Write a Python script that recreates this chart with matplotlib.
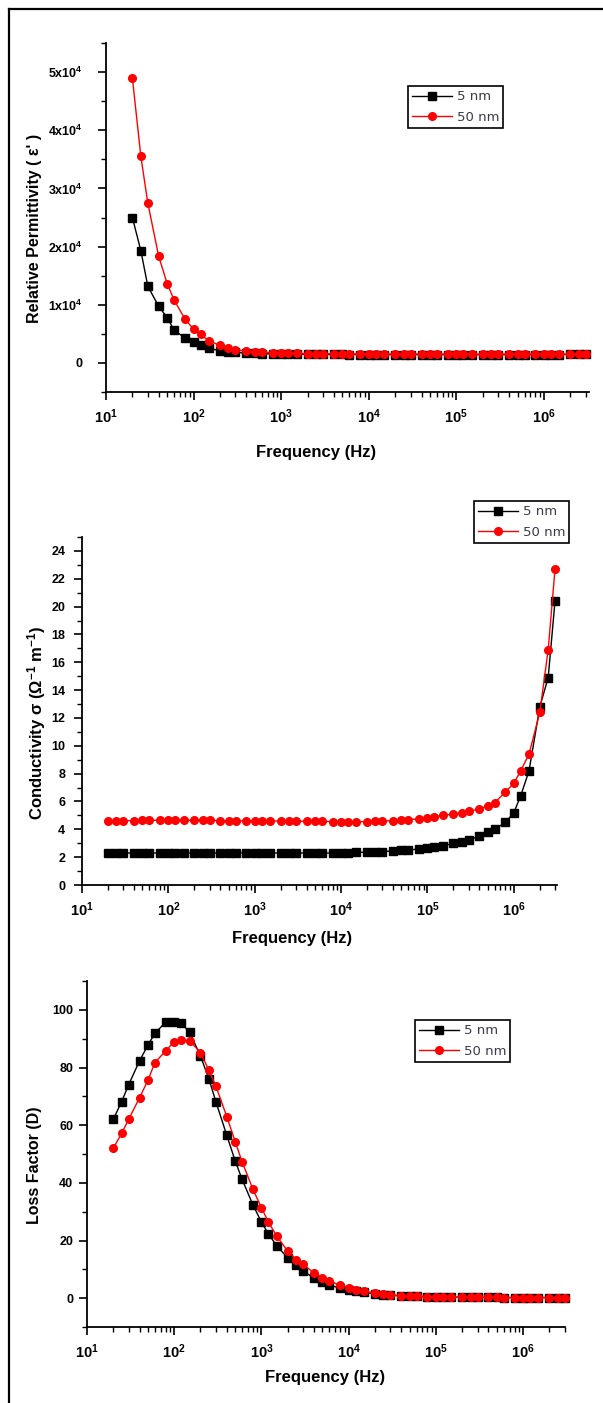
import math
import matplotlib
matplotlib.use('Agg')
import matplotlib.pyplot as plt
from matplotlib.lines import Line2D
from matplotlib.ticker import LogLocator, FixedLocator, MultipleLocator, NullFormatter, FuncFormatter

plt.rcParams['font.family'] = ['Liberation Sans', 'DejaVu Sans']
plt.rcParams['mathtext.fontset'] = 'custom'
plt.rcParams['mathtext.rm'] = 'Liberation Sans'
plt.rcParams['mathtext.bf'] = 'Liberation Sans:bold'
plt.rcParams['mathtext.default'] = 'bf'

# frequency sweep (Hz)
freq = [20, 25, 30, 40, 50, 60, 80,
        100, 120, 150, 200, 250, 300, 400, 500, 600, 800,
        1e3, 1.2e3, 1.5e3, 2e3, 2.5e3, 3e3, 4e3, 5e3, 6e3, 8e3,
        1e4, 1.2e4, 1.5e4, 2e4, 2.5e4, 3e4, 4e4, 5e4, 6e4, 8e4,
        1e5, 1.2e5, 1.5e5, 2e5, 2.5e5, 3e5, 4e5, 5e5, 6e5, 8e5,
        1e6, 1.2e6, 1.5e6, 2e6, 2.5e6, 3e6]

# relative permittivity
perm_5nm = [25000, 19300, 13200, 9700, 7800, 5600, 4300,
            3600, 3100, 2500, 2100, 1900, 1800, 1700, 1650, 1600, 1550,
            1520, 1500, 1490, 1480, 1470, 1460, 1450, 1450, 1440, 1440,
            1430, 1430, 1430, 1430, 1430, 1430, 1430, 1430, 1430, 1430,
            1420, 1420, 1420, 1420, 1420, 1420, 1420, 1420, 1420, 1420,
            1420, 1430, 1440, 1450, 1470, 1500]
perm_50nm = [49000, 35500, 27500, 18300, 13600, 10800, 7500,
             5800, 4900, 3800, 3000, 2600, 2300, 2000, 1900, 1850, 1750,
             1700, 1650, 1620, 1600, 1580, 1570, 1560, 1550, 1550, 1540,
             1540, 1530, 1530, 1530, 1530, 1530, 1530, 1530, 1530, 1530,
             1520, 1520, 1520, 1520, 1520, 1520, 1520, 1520, 1520, 1520,
             1520, 1520, 1520, 1530, 1540, 1550]

# conductivity
cond_5nm = [2.3, 2.3, 2.3, 2.3, 2.3, 2.3, 2.3,
            2.3, 2.3, 2.3, 2.3, 2.3, 2.3, 2.3, 2.3, 2.3, 2.3,
            2.3, 2.3, 2.3, 2.3, 2.3, 2.3, 2.3, 2.3, 2.3, 2.3,
            2.3, 2.3, 2.35, 2.35, 2.4, 2.4, 2.45, 2.5, 2.5, 2.6,
            2.65, 2.7, 2.8, 3.0, 3.1, 3.25, 3.5, 3.8, 4.0, 4.5,
            5.2, 6.4, 8.2, 12.8, 14.9, 20.4]
cond_50nm = [4.6, 4.6, 4.62, 4.62, 4.65, 4.65, 4.65,
             4.65, 4.65, 4.65, 4.65, 4.65, 4.65, 4.62, 4.62, 4.62, 4.6,
             4.6, 4.6, 4.6, 4.6, 4.6, 4.58, 4.58, 4.57, 4.57, 4.56,
             4.55, 4.55, 4.55, 4.55, 4.57, 4.6, 4.62, 4.65, 4.7, 4.75,
             4.8, 4.9, 5.0, 5.1, 5.2, 5.3, 5.45, 5.7, 5.9, 6.7,
             7.3, 8.2, 9.4, 12.4, 16.9, 22.7]

# loss factor
loss_5nm = [62.0, 68.2, 74.0, 82.3, 87.8, 91.8, 95.8,
            95.8, 95.5, 92.2, 84.0, 76.0, 68.2, 56.5, 47.6, 41.2, 32.3,
            26.4, 22.3, 18.1, 14.0, 11.5, 9.4, 7.0, 5.5, 4.5, 3.5,
            2.9, 2.4, 2.0, 1.5, 1.2, 1.0, 0.8, 0.7, 0.6, 0.5,
            0.45, 0.4, 0.35, 0.3, 0.3, 0.3, 0.25, 0.25, 0.2, 0.2,
            0.2, 0.2, 0.2, 0.2, 0.2, 0.2]
loss_50nm = [52.0, 57.2, 62.0, 69.5, 75.6, 81.7, 85.8,
             89.0, 89.6, 89.2, 85.2, 79.0, 73.6, 63.0, 54.3, 47.3, 37.7,
             31.4, 26.4, 21.5, 16.3, 13.4, 11.7, 8.8, 7.0, 5.9, 4.5,
             3.6, 3.0, 2.4, 1.8, 1.4, 1.2, 0.9, 0.7, 0.6, 0.5,
             0.45, 0.4, 0.35, 0.3, 0.3, 0.3, 0.25, 0.25, 0.2, 0.2,
             0.2, 0.2, 0.2, 0.2, 0.2, 0.2]

labels = ['5 nm', '50 nm']
W, H = 603, 1403
fig = plt.figure(figsize=(W / 100, H / 100), dpi=100)


def px_axes(l, t, r, b):
    return fig.add_axes([l / W, 1 - b / H, (r - l) / W, (b - t) / H])


def style(ax, xmax, ypad):
    ax.set_xscale('log')
    ax.set_xlim(10, xmax)
    for s in ['top', 'right']:
        ax.spines[s].set_visible(False)
    for s in ['left', 'bottom']:
        ax.spines[s].set_linewidth(1.3)
    ax.xaxis.set_major_locator(LogLocator(base=10, numticks=10))
    ax.xaxis.set_minor_locator(LogLocator(base=10, subs=range(2, 10), numticks=20))
    ax.xaxis.set_minor_formatter(NullFormatter())
    ax.xaxis.set_major_formatter(FuncFormatter(lambda v, p: r'$10^{%d}$' % round(math.log10(v))))
    ax.tick_params(which='major', direction='out', length=6, width=1.2)
    ax.tick_params(which='minor', direction='out', length=3.5, width=1.0)
    ax.tick_params(axis='x', which='major', labelsize=10.5, pad=5)
    ax.tick_params(axis='y', which='major', labelsize=9, pad=ypad)


def draw(ax, y1, y2):
    ax.plot(freq, y1, color='black', marker='s', ms=5.5, lw=1.0, label=labels[0], clip_on=False)
    ax.plot(freq, y2, color='red', marker='o', ms=5.5, lw=1.0, label=labels[1], clip_on=False)


def legend(ax, x, y):
    lg = ax.legend(loc='upper left', bbox_to_anchor=(x / W, 1 - y / H), bbox_transform=fig.transFigure,
                   borderaxespad=0, fancybox=False, edgecolor='black', framealpha=1,
                   prop={'family': 'DejaVu Sans', 'size': 9.5},
                   handlelength=3.0, handletextpad=0.35, borderpad=0.33, labelspacing=0.55)
    lg.get_frame().set_linewidth(1.2)
    for t in lg.get_texts():
        t.set_color('#3a3a4a')


# panel 1: relative permittivity
ax1 = px_axes(106, 43, 589, 392)
draw(ax1, perm_5nm, perm_50nm)
style(ax1, 10 ** 6.514, 11)
ax1.set_ylim(-5000, 55000)
ax1.yaxis.set_major_locator(FixedLocator([0, 10000, 20000, 30000, 40000, 50000]))
ax1.yaxis.set_minor_locator(MultipleLocator(5000))
ax1.yaxis.set_major_formatter(FuncFormatter(lambda v, p: '0' if v == 0 else r'$%dx10^{4}$' % round(v / 1e4)))
ax1.set_ylabel("Relative Permittivity ( ε' )", fontsize=11.5, fontweight='bold')
ax1.yaxis.set_label_coords(-0.1325, 0.47)
ax1.set_xlabel('Frequency (Hz)', fontsize=12, fontweight='bold')
ax1.xaxis.set_label_coords(0.435, -0.152)
legend(ax1, 408, 86)

# panel 2: conductivity
ax2 = px_axes(82, 537, 557, 885)
draw(ax2, cond_5nm, cond_50nm)
style(ax2, 10 ** 6.50, 6)
ax2.set_ylim(0, 25)
ax2.yaxis.set_major_locator(MultipleLocator(2))
ax2.yaxis.set_minor_locator(MultipleLocator(1))
ax2.set_ylabel(r'Conductivity σ (Ω$^{-1}$ m$^{-1}$)', fontsize=12, fontweight='bold')
ax2.yaxis.set_label_coords(-0.0716, 0.466)
ax2.set_xlabel('Frequency (Hz)', fontsize=12, fontweight='bold')
ax2.xaxis.set_label_coords(0.443, -0.132)
legend(ax2, 474, 501)

# panel 3: loss factor
ax3 = px_axes(87, 981, 565, 1327)
draw(ax3, loss_5nm, loss_50nm)
style(ax3, 10 ** 6.48, 4)
ax3.set_ylim(-10, 110)
ax3.yaxis.set_major_locator(FixedLocator([0, 20, 40, 60, 80, 100]))
ax3.yaxis.set_minor_locator(MultipleLocator(10))
ax3.set_ylabel('Loss Factor (D)', fontsize=11.5, fontweight='bold')
ax3.yaxis.set_label_coords(-0.094, 0.468)
ax3.set_xlabel('Frequency (Hz)', fontsize=12, fontweight='bold')
ax3.xaxis.set_label_coords(0.498, -0.124)
legend(ax3, 415, 1020)

for ax in (ax1, ax2, ax3):
    for lab in ax.get_yticklabels() + ax.get_xticklabels():
        lab.set_fontweight('bold')

# outer frame (left and top edges)
fig.add_artist(Line2D([9 / W, 9 / W], [0, 1 - 9 / H], color='black', lw=1.6, transform=fig.transFigure))
fig.add_artist(Line2D([9 / W, 1], [1 - 9 / H, 1 - 9 / H], color='black', lw=1.6, transform=fig.transFigure))

fig.savefig('out.png', dpi=100)
